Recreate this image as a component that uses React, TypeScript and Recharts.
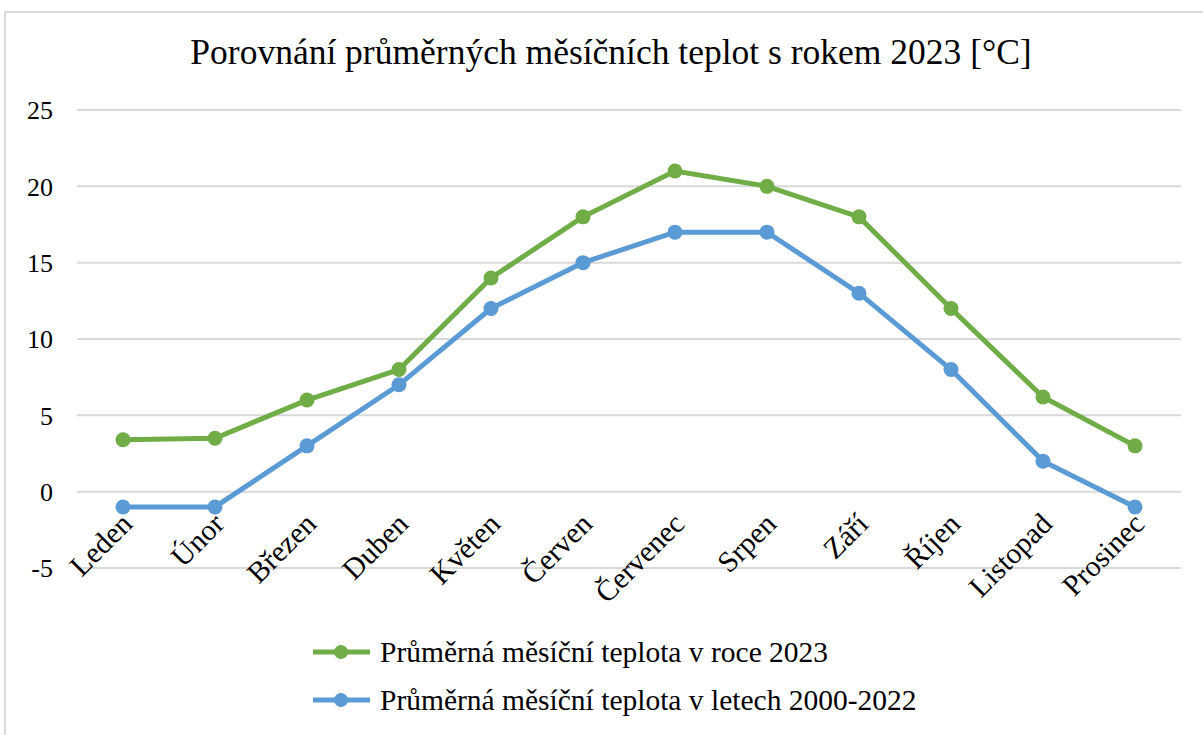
import React from "react";
import { LineChart, Line, XAxis, YAxis, CartesianGrid } from "recharts";

const months = ["Leden", "Únor", "Březen", "Duben", "Květen", "Červen", "Červenec", "Srpen", "Září", "Říjen", "Listopad", "Prosinec"];
const temps2023 = [3.4, 3.5, 6, 8, 14, 18, 21, 20, 18, 12, 6.2, 3];
const temps2000to2022 = [-1, -1, 3, 7, 12, 15, 17, 17, 13, 8, 2, -1];
const yTicks = [-5, 0, 5, 10, 15, 20, 25];
const seriesNames = ["Průměrná měsíční teplota v roce 2023", "Průměrná měsíční teplota v letech 2000-2022"];
const seriesColors = ["#70AD47", "#5B9BD5"];
const title = "Porovnání průměrných měsíčních teplot s rokem 2023 [°C]";

const data = months.map((m, i) => ({ month: m, a: temps2023[i], b: temps2000to2022[i] }));

const FONT = '"Liberation Serif", "Times New Roman", serif';
const W = 1203;
const H = 735;
const M_TOP = 110;
const M_RIGHT = 22;
const X_AXIS_H = 30;
const M_BOTTOM = 167 - X_AXIS_H;
const Y_AXIS_W = 77;
const PLOT_H = H - M_TOP - M_BOTTOM - X_AXIS_H;
const Y_MIN = yTicks[0];
const Y_MAX = yTicks[yTicks.length - 1];
const ZERO_SHIFT = (PLOT_H * (0 - Y_MIN)) / (Y_MAX - Y_MIN);

const MonthTick = (props: any) => {
  const { x, y, payload } = props;
  const ax = x + 11;
  const ay = y - ZERO_SHIFT + 34;
  return (
    <text
      x={ax}
      y={ay}
      textAnchor="end"
      transform={`rotate(-45, ${ax}, ${ay})`}
      fontFamily={FONT}
      fontSize={29.5}
      fill="#000"
    >
      {payload.value}
    </text>
  );
};

export default function App() {
  return (
    <div style={{ position: "absolute", left: 0, top: 0, width: W, height: H, background: "#fff", overflow: "hidden" }}>
      <div
        style={{
          position: "absolute",
          left: 4,
          top: 11,
          width: W,
          height: H,
          borderTop: "2px solid #d9d9d9",
          borderLeft: "2px solid #d9d9d9",
        }}
      />
      <div
        style={{
          position: "absolute",
          left: 0,
          top: 35,
          width: 1222,
          textAlign: "center",
          fontFamily: FONT,
          fontSize: 35.5,
          lineHeight: "35px",
          color: "#000",
          whiteSpace: "nowrap",
        }}
      >
        {title}
      </div>
      <div style={{ position: "absolute", left: 0, top: 0 }}>
        <LineChart width={W} height={H} data={data} margin={{ top: M_TOP, right: M_RIGHT, bottom: M_BOTTOM, left: 0 }}>
          <CartesianGrid vertical={false} stroke="#d9d9d9" strokeWidth={2} />
          <XAxis
            dataKey="month"
            scale="band"
            axisLine={false}
            tickLine={false}
            tickSize={0}
            tickMargin={0}
            height={X_AXIS_H}
            interval={0}
            tick={<MonthTick />}
          />
          <YAxis
            domain={[Y_MIN, Y_MAX]}
            ticks={yTicks}
            width={Y_AXIS_W}
            axisLine={false}
            tickLine={false}
            tickMargin={18}
            tick={{ fontFamily: FONT, fontSize: 26, fill: "#000" }}
          />
          <Line
            dataKey="a"
            name={seriesNames[0]}
            stroke={seriesColors[0]}
            strokeWidth={5}
            dot={{ r: 7.5, fill: seriesColors[0], stroke: seriesColors[0], strokeWidth: 0 }}
            isAnimationActive={false}
          />
          <Line
            dataKey="b"
            name={seriesNames[1]}
            stroke={seriesColors[1]}
            strokeWidth={5}
            dot={{ r: 7.5, fill: seriesColors[1], stroke: seriesColors[1], strokeWidth: 0 }}
            isAnimationActive={false}
          />
        </LineChart>
      </div>
      <div style={{ position: "absolute", left: 313, top: 628 }}>
        {seriesNames.map((n, i) => (
          <div key={n} style={{ display: "flex", alignItems: "center", height: 48 }}>
            <svg width={67} height={20} style={{ flex: "none" }}>
              <line x1={0} y1={10} x2={57} y2={10} stroke={seriesColors[i]} strokeWidth={5} />
              <circle cx={28} cy={10} r={7} fill={seriesColors[i]} />
            </svg>
            <span style={{ fontFamily: FONT, fontSize: 29.5, color: "#000", whiteSpace: "nowrap", lineHeight: "29px" }}>{n}</span>
          </div>
        ))}
      </div>
    </div>
  );
}
